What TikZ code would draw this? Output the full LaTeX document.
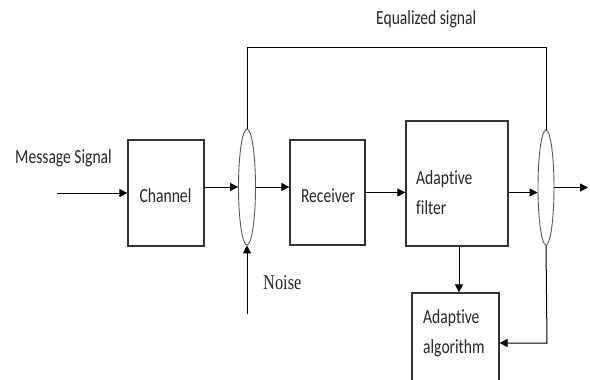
\documentclass[tikz,border=0pt]{standalone}
\usepackage{fontspec}
\usepackage{graphicx}
\setmainfont[Ligatures={NoCommon}]{Carlito}
\newfontfamily\noisefont{Liberation Serif}
\usetikzlibrary{arrows.meta,shapes.geometric}
\newcommand{\sqz}[1]{\scalebox{0.78}[1]{#1}}
\tikzset{
  blockbox/.style={draw=black!80, line width=1.2pt, inner sep=0pt, rectangle},
  sumell/.style={draw=black!65, line width=0.9pt, ellipse, inner sep=0pt},
  lbl/.style={inner sep=0pt, font=\fontsize{20}{24}\selectfont, text=black!85},
  conn/.style={line width=1pt, draw=black},
  arr/.style={conn, -{Triangle[length=8pt,width=8pt]}},
}
\begin{document}
\begin{tikzpicture}[x=1pt,y=-1pt]
\useasboundingbox (0,0) rectangle (590,380);
\clip (0,0) rectangle (590,380);
\fill[white] (0,0) rectangle (590,380);
% blocks
\node[blockbox, minimum width=76pt, minimum height=106pt] (chan) at (166,193) {};
\node[blockbox, minimum width=75pt, minimum height=105pt] (rec) at (327.5,192.5) {};
\node[blockbox, minimum width=102pt, minimum height=125pt] (filt) at (457,183.5) {};
\node[blockbox, minimum width=87pt, minimum height=127pt] (alg) at (455.5,356.5) {};
\node[sumell, minimum width=17pt, minimum height=116pt] (e1) at (247,187) {};
\node[sumell, minimum width=16pt, minimum height=115pt] (e2) at (546,187.5) {};
% labels
\node[lbl, anchor=base west] (msg) at (15,163) {\sqz{Message Signal}};
\node[lbl, anchor=base] (chantxt) at (165.5,202) {\sqz{Channel}};
\node[lbl, anchor=base] (rectxt) at (328,202) {\sqz{Receiver}};
\node[lbl, anchor=base west] (filttxta) at (416,184) {\sqz{Adaptive}};
\node[lbl, anchor=base west] (filttxtb) at (416,214) {\sqz{filter}};
\node[lbl, anchor=base west] (algtxta) at (423,323) {\sqz{Adaptive}};
\node[lbl, anchor=base west] (algtxtb) at (423,353) {\sqz{algorithm}};
\node[lbl, anchor=base west] (eqtxt) at (376,24) {\sqz{Equalized signal}};
\node[lbl, anchor=base west, font=\fontsize{21}{24}\selectfont\noisefont] (noisetxt) at (263,289) {\sqz{Noise}};
% free ends
\coordinate (inp) at (57,193);
\coordinate (outp) at (588,185);
\coordinate (noisep) at (247,314);
\coordinate (topl) at (247,47);
\coordinate (fb) at (547,343);
% connectors
\draw[arr] (inp) -- (chan.west |- inp);
\draw[arr] (chan.east |- e1.west) -- (e1.west);
\draw[arr] (e1.east) -- (e1.east -| rec.west);
\draw[arr] (rec.east) -- (rec.east -| filt.west);
\draw[arr] (filt.east |- rec.east) -- (e2.west |- rec.east);
\draw[arr] (e2.east) -- (e2.east -| outp);
\draw[arr] (noisep) -- (e1.south);
\draw[conn] (e1.north) -- (topl) -| (e2.north);
\draw[arr] ([xshift=2pt]filt.south) -- ([xshift=2pt]filt.south |- alg.north);
\draw[arr] (e2.south) -- (fb) -- (fb -| alg.east);
\end{tikzpicture}
\end{document}
